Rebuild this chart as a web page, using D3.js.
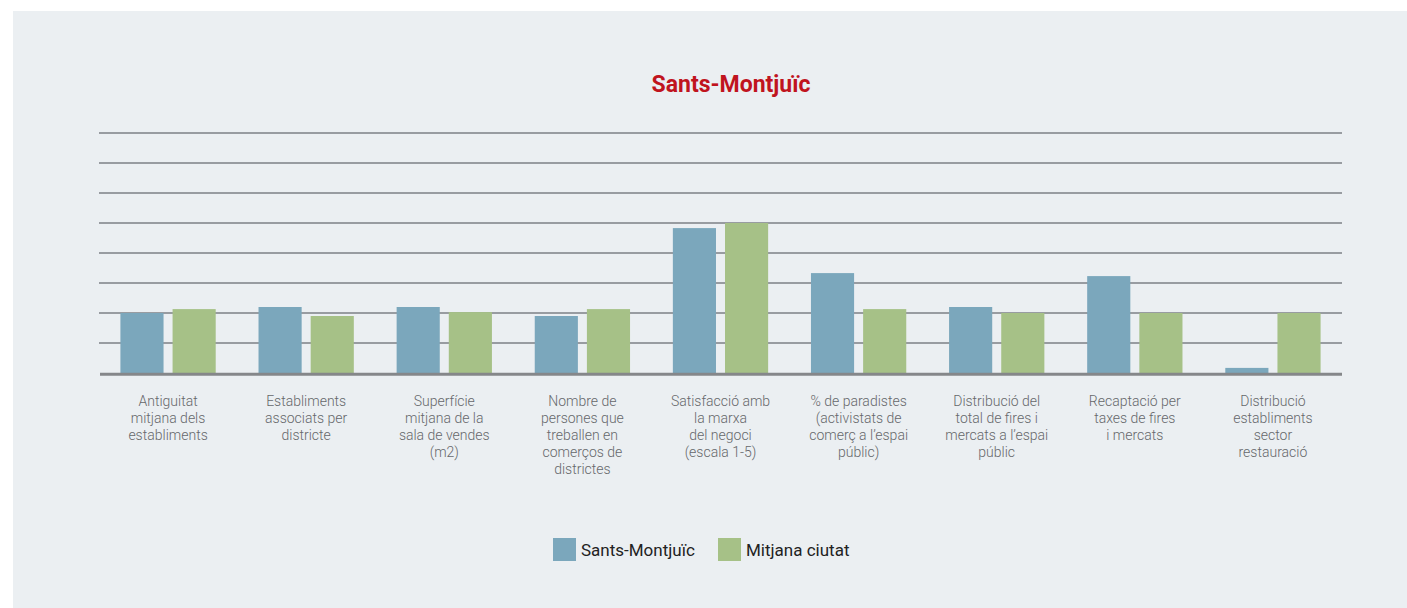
<!DOCTYPE html>
<html>
<head>
<meta charset="utf-8">
<script src="https://cdn.jsdelivr.net/npm/d3@7"></script>
<style>
  html, body { margin: 0; padding: 0; background: #ffffff; }
  svg { display: block; }
</style>
</head>
<body>
<svg id="chart" width="1407" height="608"></svg>
<script>
// Indicators compared between the district and the city average
const categories = [
  ["Antiguitat", "mitjana dels", "establiments"],
  ["Establiments", "associats per", "districte"],
  ["Superfície", "mitjana de la", "sala de vendes", "(m2)"],
  ["Nombre de", "persones que", "treballen en", "comerços de", "districtes"],
  ["Satisfacció amb", "la marxa", "del negoci", "(escala 1-5)"],
  ["% de paradistes", "(activistats de", "comerç a l’espai", "públic)"],
  ["Distribució del", "total de fires i", "mercats a l’espai", "públic"],
  ["Recaptació per", "taxes de fires", "i mercats"],
  ["Distribució", "establiments", "sector", "restauració"]
];
const seriesNames = ["Sants-Montjuïc", "Mitjana ciutat"];
const districtValues = [2.0, 2.2, 2.2, 1.9, 4.83, 3.33, 2.2, 3.23, 0.17];
const cityValues     = [2.13, 1.9, 2.03, 2.13, 5.0, 2.13, 2.0, 2.0, 2.0];
const gridTicks = [0, 1, 2, 3, 4, 5, 6, 7, 8];
const colors = ["#7ba7bc", "#a6c187"];

const svg = d3.select("#chart");

// panel background
svg.append("rect")
  .attr("x", 13).attr("y", 11)
  .attr("width", 1407 - 13).attr("height", 608 - 11)
  .attr("fill", "#ebeff2");

const plotLeft = 99, plotRight = 1342, plotTop = 133, plotBottom = 373;

const x = d3.scaleBand()
  .domain(d3.range(categories.length))
  .range([plotLeft, plotRight])
  .paddingInner(0.31)
  .paddingOuter(0.155);

const xs = d3.scaleBand()
  .domain([0, 1])
  .range([0, x.bandwidth()])
  .paddingInner(0.173);

const y = d3.scaleLinear().domain([0, 8]).range([plotBottom, plotTop]);

// horizontal grid lines
svg.append("g")
  .selectAll("line")
  .data(gridTicks.filter(t => t > 0))
  .join("line")
  .attr("x1", plotLeft).attr("x2", plotRight)
  .attr("y1", d => y(d)).attr("y2", d => y(d))
  .attr("stroke", "#989ca1")
  .attr("stroke-width", 2);

// bars
const groups = svg.append("g")
  .selectAll("g")
  .data(categories.map((c, i) => ({ i, vals: [districtValues[i], cityValues[i]] })))
  .join("g")
  .attr("transform", d => `translate(${x(d.i)},0)`);

groups.selectAll("rect")
  .data(d => d.vals.map((v, k) => ({ v, k })))
  .join("rect")
  .attr("x", d => xs(d.k))
  .attr("width", xs.bandwidth())
  .attr("y", d => y(d.v))
  .attr("height", d => y(0) - y(d.v))
  .attr("fill", d => colors[d.k]);

// baseline
svg.append("line")
  .attr("x1", plotLeft + 1).attr("x2", plotRight)
  .attr("y1", y(0) + 1.2).attr("y2", y(0) + 1.2)
  .attr("stroke", "#85878a")
  .attr("stroke-width", 3);

// category labels
const labels = svg.append("g")
  .selectAll("text")
  .data(categories)
  .join("text")
  .attr("text-anchor", "middle")
  .attr("x", (d, i) => x(i) + x.bandwidth() / 2)
  .attr("y", 406)
  .attr("font-family", "Roboto, 'Liberation Sans', sans-serif")
  .attr("font-weight", 300)
  .attr("font-size", 14)
  .attr("fill", "#66686b");

labels.selectAll("tspan")
  .data(d => d)
  .join("tspan")
  .attr("x", function () { return d3.select(this.parentNode).attr("x"); })
  .attr("dy", (d, i) => i === 0 ? 0 : 17)
  .text(d => d);

// title
svg.append("text")
  .attr("x", 731).attr("y", 92)
  .attr("text-anchor", "middle")
  .attr("font-family", "Roboto, 'Liberation Sans', sans-serif")
  .attr("font-weight", 700)
  .attr("font-size", 23)
  .attr("fill", "#c0141e")
  .text("Sants-Montjuïc");

// legend
const legendItems = [
  { name: seriesNames[0], color: colors[0], x: 553 },
  { name: seriesNames[1], color: colors[1], x: 718 }
];
const legend = svg.append("g")
  .selectAll("g")
  .data(legendItems)
  .join("g")
  .attr("transform", d => `translate(${d.x},538)`);
legend.append("rect")
  .attr("width", 23).attr("height", 23)
  .attr("fill", d => d.color);
legend.append("text")
  .attr("x", 28).attr("y", 18)
  .attr("font-family", "Roboto, 'Liberation Sans', sans-serif")
  .attr("font-size", 17)
  .attr("fill", "#222222")
  .text(d => d.name);
</script>
</body>
</html>
